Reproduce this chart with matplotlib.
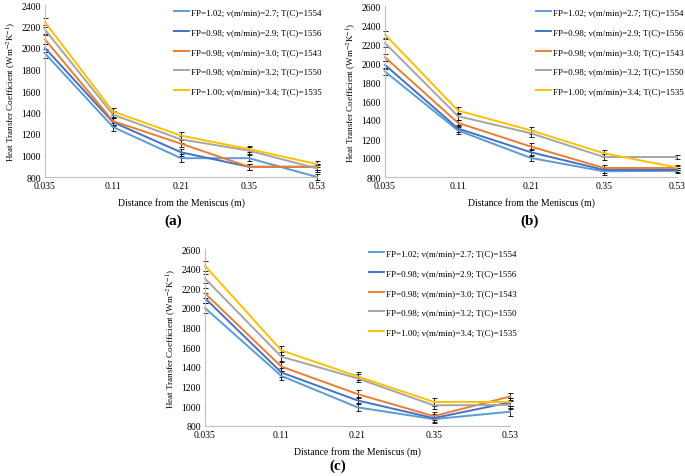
import matplotlib.pyplot as plt
from matplotlib.lines import Line2D

plt.rcParams['font.family'] = ['Liberation Serif', 'DejaVu Serif']
plt.rcParams['mathtext.fontset'] = 'stix'

# x categories (equally spaced on the chart)
distances = ["0.035", "0.11", "0.21", "0.35", "0.53"]
labels = ["FP=1.02; v(m/min)=2.7; T(C)=1554",
          "FP=0.98; v(m/min)=2.9; T(C)=1556",
          "FP=0.98; v(m/min)=3.0; T(C)=1543",
          "FP=0.98; v(m/min)=3.2; T(C)=1550",
          "FP=1.00; v(m/min)=3.4; T(C)=1535"]
colors = ["#5B9BD5", "#4472C4", "#ED7D31", "#A5A5A5", "#FFC000"]

# panel (a)
a_fp102 = [1950, 1265, 975, 975, 800]
a_fp098_29 = [2000, 1310, 1030, 895, 895]
a_fp098_30 = [2080, 1320, 1110, 895, 895]
a_fp098_32 = [2170, 1380, 1150, 1045, 880]
a_fp100 = [2240, 1410, 1185, 1060, 920]
a_err = [40, 35, 35, 30, 30]

# panel (b)
b_fp102 = [1910, 1290, 1000, 860, 865]
b_fp098_29 = [1980, 1310, 1060, 875, 875]
b_fp098_30 = [2060, 1370, 1120, 895, 895]
b_fp098_32 = [2210, 1440, 1260, 1010, 1010]
b_fp100 = [2300, 1500, 1290, 1050, 900]
b_err = [40, 35, 35, 35, 25]

# panel (c)
c_fp102 = [2000, 1310, 990, 870, 945]
c_fp098_29 = [2100, 1345, 1060, 880, 1040]
c_fp098_30 = [2150, 1405, 1125, 900, 1100]
c_fp098_32 = [2300, 1505, 1285, 1010, 1015]
c_fp100 = [2430, 1570, 1305, 1045, 1045]
c_err = [50, 45, 40, 40, 40]

panels = [
    ([a_fp102, a_fp098_29, a_fp098_30, a_fp098_32, a_fp100], a_err, 2400, "(a)"),
    ([b_fp102, b_fp098_29, b_fp098_30, b_fp098_32, b_fp100], b_err, 2600, "(b)"),
    ([c_fp102, c_fp098_29, c_fp098_30, c_fp098_32, c_fp100], c_err, 2600, "(c)"),
]

fig = plt.figure(figsize=(6.85, 4.77), dpi=100)
W, H = 685, 477

# axes boxes in pixels: left, top, right, bottom
boxes = [(45, 6, 317, 178), (385, 7, 677, 178), (205, 250, 510, 427)]
legend_pos = [(168, 3), (530, 3), (363, 244)]
panel_lab = [(173, 221), (530, 221), (338, 466)]

x = list(range(len(distances)))
for (series, err, ymax, tag), box, lp, pl in zip(panels, boxes, legend_pos, panel_lab):
    l, t, r, b = box
    ax = fig.add_axes([l / W, 1 - b / H, (r - l) / W, (b - t) / H])
    for vals, col in zip(series, colors):
        ax.errorbar(x, vals, yerr=err, color=col, lw=1.4, clip_on=False,
                    ecolor='black', elinewidth=0.6, capsize=1.8, capthick=0.6)
    ax.set_xlim(0, 4)
    ax.set_ylim(800, ymax)
    ax.set_yticks(range(800, ymax + 1, 200))
    ax.set_xticks(x, distances)
    ax.tick_params(labelsize=7, length=0, pad=3)
    for s in ['top', 'right']:
        ax.spines[s].set_visible(False)
    for s in ['left', 'bottom']:
        ax.spines[s].set_color('#BFBFBF')
        ax.spines[s].set_linewidth(0.8)
    ax.set_xlabel("Distance from the Meniscus (m)", fontsize=7, labelpad=5)
    ax.set_ylabel(r"Heat Transfer Coefficient (Wm$^{-2}$K$^{-1}$)", fontsize=6.5, labelpad=2)
    handles = [Line2D([], [], color=c, lw=1.4) for c in colors]
    ax.legend(handles, labels, loc='upper left', bbox_to_anchor=(lp[0] / W, 1 - lp[1] / H),
              bbox_transform=fig.transFigure, frameon=False, fontsize=6.5,
              handlelength=1.6, handletextpad=0.2, labelspacing=1.25, borderpad=0.2)
    fig.text(pl[0] / W, 1 - pl[1] / H, tag, ha='center', va='center',
             fontsize=11, fontweight='bold')

fig.savefig("out.png", dpi=100)
